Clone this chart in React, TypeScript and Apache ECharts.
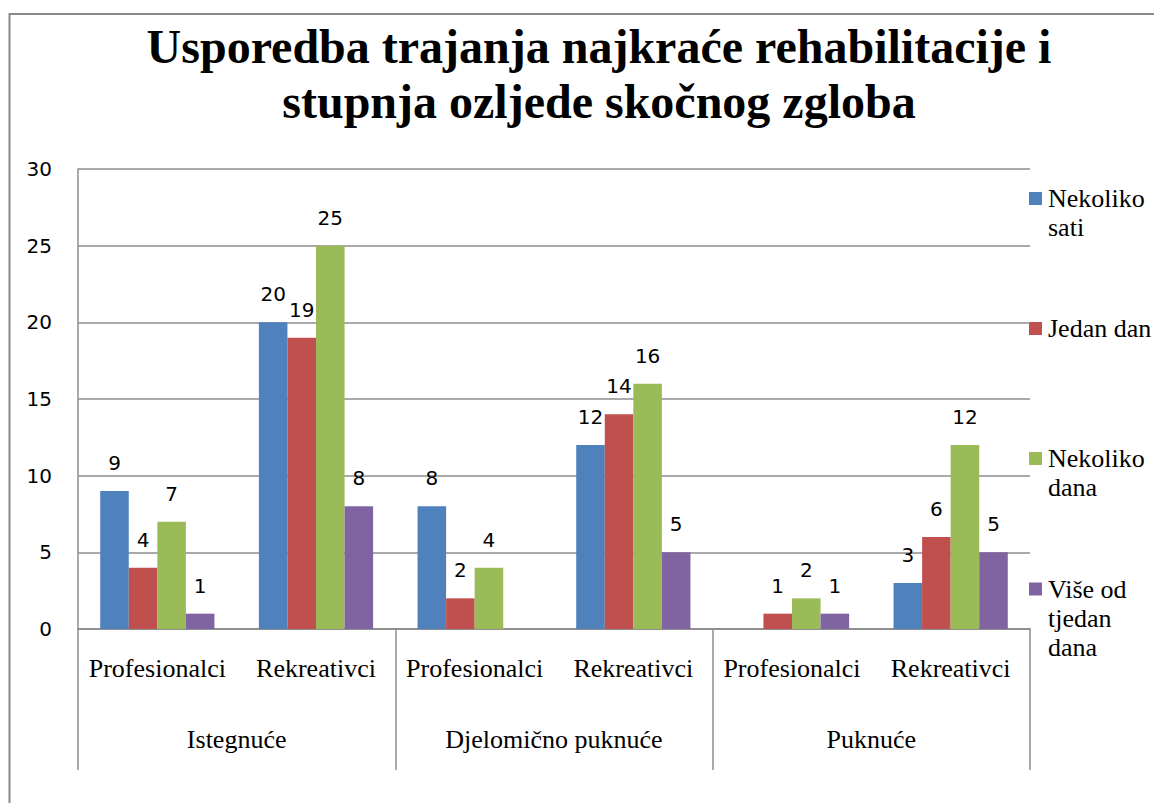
import React, { useEffect, useRef } from "react";
import * as echarts from "echarts";

const titleLines = [
  "Usporedba trajanja najkraće rehabilitacije i",
  "stupnja ozljede skočnog zgloba",
];
const groups = ["Istegnuće", "Djelomično puknuće", "Puknuće"];
const subCategories = [
  "Profesionalci",
  "Rekreativci",
  "Profesionalci",
  "Rekreativci",
  "Profesionalci",
  "Rekreativci",
];
const seriesNames = ["Nekoliko sati", "Jedan dan", "Nekoliko dana", "Više od tjedan dana"];
const legendLabels = ["Nekoliko\nsati", "Jedan dan", "Nekoliko\ndana", "Više od\ntjedan\ndana"];
const nekolikoSati = [9, 20, 8, 12, null, 3];
const jedanDan = [4, 19, 2, 14, 1, 6];
const nekolikoDana = [7, 25, 4, 16, 2, 12];
const viseOdTjedanDana = [1, 8, null, 5, 1, 5];
const yMin = 0;
const yMax = 30;
const yStep = 5;
const colors = ["#4F81BD", "#C0504D", "#9BBB59", "#8064A2"];

const seriesData = [nekolikoSati, jedanDan, nekolikoDana, viseOdTjedanDana];

const SERIF = "Liberation Serif";
const SANS = "DejaVu Sans";
const GRID_COLOR = "#8e8e8e";

export default function App() {
  const ref = useRef<HTMLDivElement>(null);

  useEffect(() => {
    if (!ref.current) return;
    const chart = echarts.init(ref.current, undefined, { renderer: "svg" });

    const legendIconCenters = [198.5, 328.5, 458.5, 589];
    const legendLineHeight = 29;
    const legendGraphics: any[] = [];
    legendLabels.forEach((lbl, i) => {
      const cy = legendIconCenters[i];
      legendGraphics.push({
        type: "rect",
        shape: { x: 1029, y: cy - 6.5, width: 13, height: 13 },
        style: { fill: colors[i] },
      });
      legendGraphics.push({
        type: "text",
        x: 1048,
        y: cy - legendLineHeight / 2,
        style: {
          text: lbl,
          fontFamily: SERIF,
          fontSize: 26,
          fontWeight: "normal",
          lineHeight: legendLineHeight,
          fill: "#000",
          align: "left",
          verticalAlign: "top",
        },
      });
    });

    const option: any = {
      animation: false,
      backgroundColor: "#ffffff",
      textStyle: { fontFamily: SERIF },
      grid: {
        left: 78,
        right: 124,
        top: 169,
        bottom: 174,
        containLabel: false,
        outerBoundsMode: "none",
      },
      xAxis: [
        {
          type: "category",
          data: subCategories,
          position: "bottom",
          axisLine: { show: true, lineStyle: { color: GRID_COLOR, width: 1.5 } },
          axisTick: { show: false },
          axisLabel: {
            interval: 0,
            margin: 26,
            fontFamily: SERIF,
            fontSize: 26,
            color: "#000",
          },
        },
        {
          type: "category",
          data: groups,
          position: "bottom",
          axisLine: { show: true, lineStyle: { color: GRID_COLOR, width: 1.5 } },
          axisTick: {
            show: true,
            interval: 0,
            length: 141,
            lineStyle: { color: GRID_COLOR, width: 1.5 },
          },
          axisLabel: {
            interval: 0,
            margin: 97,
            fontFamily: SERIF,
            fontSize: 26,
            color: "#000",
          },
        },
      ],
      yAxis: {
        type: "value",
        min: yMin,
        max: yMax,
        interval: yStep,
        axisLine: { show: true, lineStyle: { color: GRID_COLOR, width: 1.5 } },
        axisTick: { show: false },
        splitLine: { show: true, lineStyle: { color: GRID_COLOR, width: 1.5 } },
        axisLabel: {
          margin: 26,
          fontFamily: SANS,
          fontSize: 20,
          color: "#000",
        },
      },
      series: seriesData.map((d, i) => ({
        type: "bar",
        name: seriesNames[i],
        data: d,
        xAxisIndex: 0,
        barGap: "0%",
        barCategoryGap: "28%",
        itemStyle: { color: colors[i] },
        label: {
          show: true,
          position: "top",
          distance: 18,
          fontFamily: SANS,
          fontSize: 20,
          color: "#000",
        },
      })),
      graphic: [
        {
          type: "rect",
          shape: { x: 9.5, y: 14, width: 1300, height: 1000 },
          style: { fill: "none", stroke: "#8a8a8a", lineWidth: 2 },
          silent: true,
        },
        {
          type: "text",
          x: 599,
          y: 19,
          style: {
            text: titleLines.join("\n"),
            fontFamily: SERIF,
            fontWeight: "bold",
            fontSize: 48,
            lineHeight: 55,
            fill: "#000",
            align: "center",
            verticalAlign: "top",
          },
        },
        ...legendGraphics,
      ],
    };

    chart.setOption(option);
    return () => {
      chart.dispose();
    };
  }, []);

  return (
    <div
      ref={ref}
      style={{ position: "absolute", left: 0, top: 0, width: 1154, height: 803 }}
    />
  );
}
